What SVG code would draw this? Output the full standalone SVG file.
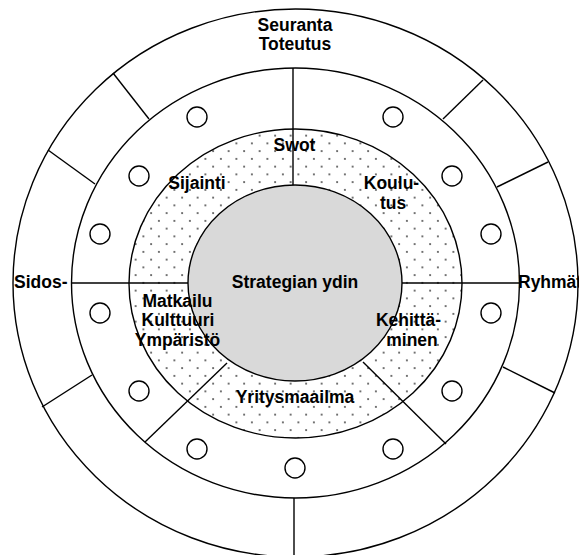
<svg xmlns="http://www.w3.org/2000/svg" width="579" height="555" viewBox="0 0 579 555">
<defs>
<pattern id="dots" x="0" y="0" width="15.5" height="15.5" patternUnits="userSpaceOnUse">
<rect width="15.5" height="15.5" fill="#ffffff"/>
<circle cx="3.9" cy="3.9" r="0.9" fill="#333333"/>
<circle cx="11.65" cy="11.65" r="0.9" fill="#333333"/>
</pattern>
<style>
.ln{stroke:#000;stroke-width:1.4;fill:none}
.ring{stroke:#000;stroke-width:1.4}
.mk{stroke:#000;stroke-width:1.4;fill:#fff}
.t{font-family:"Liberation Sans",Arial,sans-serif;font-weight:bold;font-size:17.5px;fill:#000}
.c{text-anchor:middle}
</style>
</defs>
<rect width="579" height="555" fill="#ffffff"/>
<g id="outer-ring">
<ellipse class="ring" cx="295.5" cy="283" rx="282.5" ry="274" fill="#ffffff"/>
</g>
<g id="middle-ring">
<ellipse class="ring" cx="295.5" cy="283" rx="224" ry="215" fill="#ffffff"/>
</g>
<g id="dotted-ring">
<ellipse class="ring" cx="295.5" cy="283.5" rx="166.5" ry="154.5" fill="url(#dots)"/>
</g>
<g id="core">
<ellipse class="ring" cx="295" cy="283" rx="107" ry="98" fill="#d9d9d9"/>
</g>
<g id="connectors">
<line class="ln" x1="293" y1="68" x2="293" y2="185"/>
<line class="ln" x1="294" y1="498" x2="294" y2="556"/>
<line class="ln" x1="72" y1="283" x2="188" y2="283"/>
<line class="ln" x1="402" y1="283" x2="520" y2="283"/>
<line class="ln" x1="227" y1="363" x2="145" y2="442"/>
<line class="ln" x1="363" y1="362" x2="446" y2="444"/>
<line class="ln" x1="113" y1="73" x2="149" y2="119"/>
<line class="ln" x1="48" y1="150" x2="95" y2="184"/>
<line class="ln" x1="92" y1="375" x2="42" y2="407"/>
<line class="ln" x1="483" y1="80" x2="443" y2="119"/>
<line class="ln" x1="548" y1="162" x2="497" y2="187"/>
<line class="ln" x1="503" y1="367" x2="555" y2="393"/>
</g>
<g id="markers">
<circle class="mk" cx="197" cy="117" r="10"/>
<circle class="mk" cx="393" cy="117" r="10"/>
<circle class="mk" cx="139" cy="176" r="10"/>
<circle class="mk" cx="452" cy="176" r="10"/>
<circle class="mk" cx="100" cy="234" r="10"/>
<circle class="mk" cx="491" cy="234" r="10"/>
<circle class="mk" cx="100" cy="313" r="10"/>
<circle class="mk" cx="491" cy="313" r="10"/>
<circle class="mk" cx="139" cy="391" r="10"/>
<circle class="mk" cx="452" cy="391" r="10"/>
<circle class="mk" cx="197" cy="449" r="10"/>
<circle class="mk" cx="393" cy="449" r="10"/>
<circle class="mk" cx="295" cy="468" r="10"/>
</g>
<g id="labels">
<text class="t c" x="295" y="31">Seuranta</text>
<text class="t c" x="295" y="50">Toteutus</text>
<text class="t" x="14" y="288">Sidos-</text>
<text class="t" x="518" y="288">Ryhmät</text>
<text class="t c" x="294.5" y="151">Swot</text>
<text class="t c" x="197" y="189">Sijainti</text>
<text class="t c" x="391.5" y="189">Koulu-</text>
<text class="t c" x="393" y="209">tus</text>
<text class="t c" x="295" y="288">Strategian ydin</text>
<text class="t c" x="177.5" y="307">Matkailu</text>
<text class="t c" x="178" y="326">Kulttuuri</text>
<text class="t c" x="177.5" y="346">Ympäristö</text>
<text class="t c" x="408.5" y="326">Kehittä-</text>
<text class="t c" x="412" y="346">minen</text>
<text class="t c" x="295" y="403">Yritysmaailma</text>
</g>
</svg>
